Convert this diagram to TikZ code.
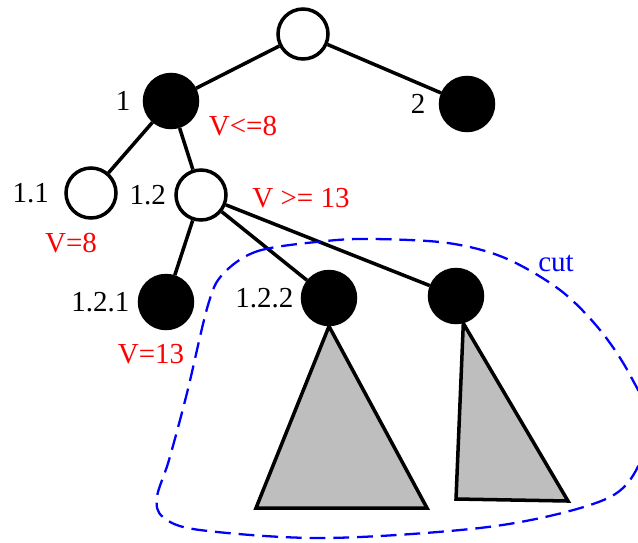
\documentclass[tikz,border=0pt]{standalone}
\usepackage{fontspec}
\setmainfont{Liberation Serif}
\usetikzlibrary{positioning}
\definecolor{CutBlue}{RGB}{0,0,255}
\definecolor{ValRed}{RGB}{255,0,0}
\definecolor{SubGray}{RGB}{190,190,190}
\tikzset{
  open/.style={circle,draw,fill=white,line width=2pt,minimum size=1.0cm,inner sep=0pt},
  closed/.style={circle,draw,fill=black,line width=2pt,minimum size=1.06cm,inner sep=0pt},
  edge/.style={line width=2pt},
  lbl/.style={inner sep=0pt,font=\fontsize{16.5}{19}\selectfont},
  val/.style={lbl,text=ValRed},
  subtree/.style={draw,fill=SubGray,line width=2pt,line join=miter},
  cutline/.style={CutBlue,line width=1.3pt,dash pattern=on 9pt off 4.5pt}
}
\begin{document}
\begin{tikzpicture}[x=0.02cm,y=-0.02cm]
\useasboundingbox (0,0) rectangle (638,542);
\clip (0,0) rectangle (638,542);
% tree nodes
\node[open] (root) at (303,34) {};
\node[closed] (n1) at (171,101) {};
\node[closed] (n2) at (467,104) {};
\node[open] (n11) at (91,193) {};
\node[open] (n12) at (201,195) {};
\node[closed] (n121) at (166,302) {};
\node[closed] (n122) at (329,298) {};
\node[closed] (n123) at (456,296) {};
\draw[edge] (root) -- (n1);
\draw[edge] (root) -- (n2);
\draw[edge] (n1) -- (n11);
\draw[edge] (n1) -- (n12);
\draw[edge] (n12) -- (n121);
\draw[edge] (n12) -- (n122);
\draw[edge] (n12) -- (n123);
% labels
\node[lbl, left=0.24cm of n1] (l1) {1};
\node[lbl, left=0.26cm of n2] (l2) {2};
\node[lbl, left=0.3cm of n11] (l11) {1.1};
\node[lbl, left=0.16cm of n12] (l12) {1.2};
\node[lbl, left=0.16cm of n121] (l121) {1.2.1};
\node[lbl, left=0.14cm of n122] (l122) {1.2.2};
\node[val] (v1) at (243,126) {V<=8};
\node[val] (v12) at (301,198) {V >= 13};
\node[val] (v11) at (71,243) {V=8};
\node[val] (v121) at (151,354) {V=13};
% subtrees
\draw[subtree] (n122.south) -- (256,508) -- (427,508) -- cycle;
\draw[subtree] (n123.-75) -- (456,499) -- (568,501) -- cycle;
% cut
\draw[cutline] plot[smooth cycle, tension=0.55] coordinates {
  (223,274) (258,251) (326,241) (374,239) (448,243) (505,258)
  (560,290) (600,330) (630,375) (650,425) (630,480) (590,505)
  (488,527) (326,538) (200,530) (163,517) (157,497) (169,460)
  (187,393) (208,305)};
\node[lbl, text=CutBlue] (cut) at (556,263) {cut};
\end{tikzpicture}
\end{document}
